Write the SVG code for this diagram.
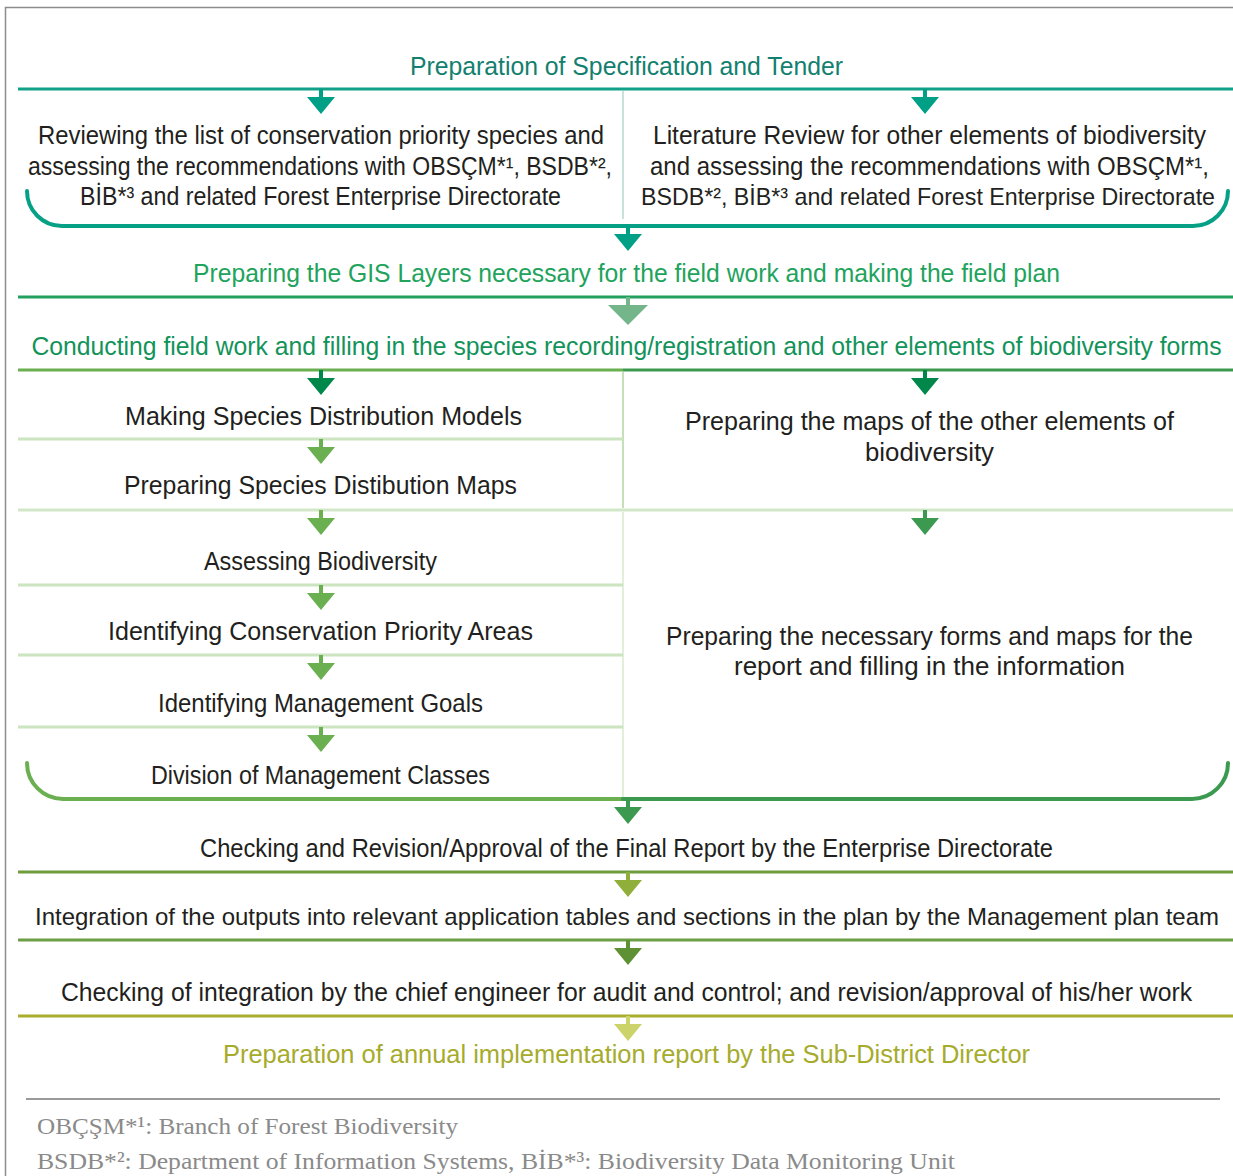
<svg xmlns="http://www.w3.org/2000/svg" xmlns:xlink="http://www.w3.org/1999/xlink" width="1233" height="1176" viewBox="0 0 1233 1176">
<style>
.t{font-family:"Liberation Sans",Arial,sans-serif;font-size:25px;fill:#231f20;text-anchor:middle}
.fn{font-family:"Liberation Serif","Times New Roman",serif;font-size:24px;fill:#8a8a8a}
.ln{stroke-width:3;fill:none}
.br{stroke-width:4;fill:none;stroke-linecap:round}
.dv{stroke-width:2;fill:none}
</style>
<defs>
<path id="arr" d="M-2,0 h4 v8 h12 l-14,17 l-14,-17 h12 z"/>
<path id="arrBig" d="M-2,0 h4 v8 h18 l-20,20 l-20,-20 h18 z"/>
</defs>
<rect x="5.5" y="7.5" width="1260" height="1200" fill="none" stroke="#8c8c8c" stroke-width="1.5"/>

<g id="connectors">
<line class="ln" x1="18" y1="89" x2="1233" y2="89" stroke="#12a089"/>
<line class="dv" x1="623" y1="91" x2="623" y2="219" stroke="#c8e3da"/>
<path class="br" d="M27,191 A35,35 0 0 0 62,226 H1193 A35,35 0 0 0 1228,191" stroke="#06a086"/>
<line class="ln" x1="18" y1="297" x2="1233" y2="297" stroke="#22a05e"/>
<line class="ln" x1="18" y1="370" x2="623" y2="370" stroke="#6aaf50"/>
<line class="ln" x1="623" y1="370" x2="1233" y2="370" stroke="#3c9a50"/>
<line class="dv" x1="623" y1="372" x2="623" y2="508" stroke="#c5dfb9"/>
<line class="ln" x1="18" y1="439" x2="623" y2="439" stroke="#cce4bf"/>
<line class="ln" x1="18" y1="510" x2="1233" y2="510" stroke="#d2e7c8"/>
<line class="dv" x1="623" y1="512" x2="623" y2="797" stroke="#e2efdb"/>
<line class="ln" x1="18" y1="585" x2="623" y2="585" stroke="#cce4bf"/>
<line class="ln" x1="18" y1="655" x2="623" y2="655" stroke="#cce4bf"/>
<line class="ln" x1="18" y1="727" x2="623" y2="727" stroke="#cce4bf"/>
<path class="br" d="M27,763 A36,36 0 0 0 63,799 H623" stroke="#6aaf50"/>
<path class="br" d="M623,799 H1192 A36,36 0 0 0 1228,763" stroke="#3c9a50"/>
<line class="ln" x1="18" y1="872" x2="1233" y2="872" stroke="#6e9c3e"/>
<line class="ln" x1="18" y1="940" x2="1233" y2="940" stroke="#6b9e45"/>
<line class="ln" x1="18" y1="1016" x2="1233" y2="1016" stroke="#a8ad2c"/>

<use href="#arr" x="321" y="89" fill="#00a086"/>
<use href="#arr" x="925" y="89" fill="#00a086"/>
<use href="#arr" x="628" y="226" fill="#00a086"/>
<use href="#arrBig" x="628" y="297" fill="#74b58a"/>
<use href="#arr" x="321" y="370" fill="#00874a"/>
<use href="#arr" x="925" y="370" fill="#00874a"/>
<use href="#arr" x="321" y="439" fill="#6aaf50"/>
<use href="#arr" x="321" y="510" fill="#6aaf50"/>
<use href="#arr" x="925" y="510" fill="#3c9a50"/>
<use href="#arr" x="321" y="585" fill="#6aaf50"/>
<use href="#arr" x="321" y="655" fill="#6aaf50"/>
<use href="#arr" x="321" y="727" fill="#6aaf50"/>
<use href="#arr" x="628" y="799" fill="#3c9a50"/>
<use href="#arr" x="628" y="872" fill="#8fae3a"/>
<use href="#arr" x="628" y="940" fill="#5e9134"/>
<use href="#arr" x="628" y="1016" fill="#cdd36b"/>
</g>

<g id="n-tender"><text class="t" x="626.5" y="75" style="fill:#12806f" textLength="433" lengthAdjust="spacingAndGlyphs">Preparation of Specification and Tender</text></g>
<g id="n-review">
<text class="t" x="321" y="144" textLength="566" lengthAdjust="spacingAndGlyphs">Reviewing the list of conservation priority species and</text>
<text class="t" x="320" y="175" textLength="584" lengthAdjust="spacingAndGlyphs">assessing the recommendations with OBSÇM*¹, BSDB*²,</text>
<text class="t" x="320.5" y="205" textLength="481" lengthAdjust="spacingAndGlyphs">BİB*³ and related Forest Enterprise Directorate</text>
</g>
<g id="n-literature">
<text class="t" x="929.5" y="144" textLength="553" lengthAdjust="spacingAndGlyphs">Literature Review for other elements of biodiversity</text>
<text class="t" x="929.5" y="175" textLength="559" lengthAdjust="spacingAndGlyphs">and assessing the recommendations with OBSÇM*¹,</text>
<text class="t" x="928" y="205" style="font-size:24px" textLength="574" lengthAdjust="spacingAndGlyphs">BSDB*², BİB*³ and related Forest Enterprise Directorate</text>
</g>
<g id="n-gis"><text class="t" x="626.5" y="282" style="fill:#21a35c" textLength="867" lengthAdjust="spacingAndGlyphs">Preparing the GIS Layers necessary for the field work and making the field plan</text></g>
<g id="n-field"><text class="t" x="626.5" y="355" style="fill:#12935a" textLength="1190" lengthAdjust="spacingAndGlyphs">Conducting field work and filling in the species recording/registration and other elements of biodiversity forms</text></g>
<g id="n-sdm"><text class="t" x="323.5" y="425" textLength="397" lengthAdjust="spacingAndGlyphs">Making Species Distribution Models</text></g>
<g id="n-maps-other">
<text class="t" x="929.5" y="430" textLength="489" lengthAdjust="spacingAndGlyphs">Preparing the maps of the other elements of</text>
<text class="t" x="929.5" y="461" textLength="129" lengthAdjust="spacingAndGlyphs">biodiversity</text>
</g>
<g id="n-sdmaps"><text class="t" x="320.5" y="494" textLength="393" lengthAdjust="spacingAndGlyphs">Preparing Species Distibution Maps</text></g>
<g id="n-assess"><text class="t" x="320.5" y="570" textLength="233" lengthAdjust="spacingAndGlyphs">Assessing Biodiversity</text></g>
<g id="n-cpa"><text class="t" x="320.5" y="640" textLength="425" lengthAdjust="spacingAndGlyphs">Identifying Conservation Priority Areas</text></g>
<g id="n-goals"><text class="t" x="320.5" y="712" textLength="325" lengthAdjust="spacingAndGlyphs">Identifying Management Goals</text></g>
<g id="n-classes"><text class="t" x="320.5" y="784" textLength="339" lengthAdjust="spacingAndGlyphs">Division of Management Classes</text></g>
<g id="n-forms">
<text class="t" x="929.5" y="645" textLength="527" lengthAdjust="spacingAndGlyphs">Preparing the necessary forms and maps for the</text>
<text class="t" x="929.5" y="675" textLength="391" lengthAdjust="spacingAndGlyphs">report and filling in the information</text>
</g>
<g id="n-check-final"><text class="t" x="626.5" y="857" textLength="853" lengthAdjust="spacingAndGlyphs">Checking and Revision/Approval of the Final Report by the Enterprise Directorate</text></g>
<g id="n-integration"><text class="t" x="627" y="925" style="font-size:24px" textLength="1184" lengthAdjust="spacingAndGlyphs">Integration of the outputs into relevant application tables and sections in the plan by the Management plan team</text></g>
<g id="n-check-int"><text class="t" x="626.5" y="1001" textLength="1131" lengthAdjust="spacingAndGlyphs">Checking of integration by the chief engineer for audit and control; and revision/approval of his/her work</text></g>
<g id="n-annual"><text class="t" x="626.5" y="1063" style="fill:#a6ab2c" textLength="807" lengthAdjust="spacingAndGlyphs">Preparation of annual implementation report by the Sub-District Director</text></g>

<g id="footnotes">
<line x1="26" y1="1099" x2="1220" y2="1099" stroke="#9a9a9a" stroke-width="2"/>
<text class="fn" x="37" y="1134" textLength="421" lengthAdjust="spacingAndGlyphs">OBÇŞM*¹: Branch of Forest Biodiversity</text>
<text class="fn" x="37" y="1169" textLength="918" lengthAdjust="spacingAndGlyphs">BSDB*²: Department of Information Systems, BİB*³: Biodiversity Data Monitoring Unit</text>
</g>
</svg>
